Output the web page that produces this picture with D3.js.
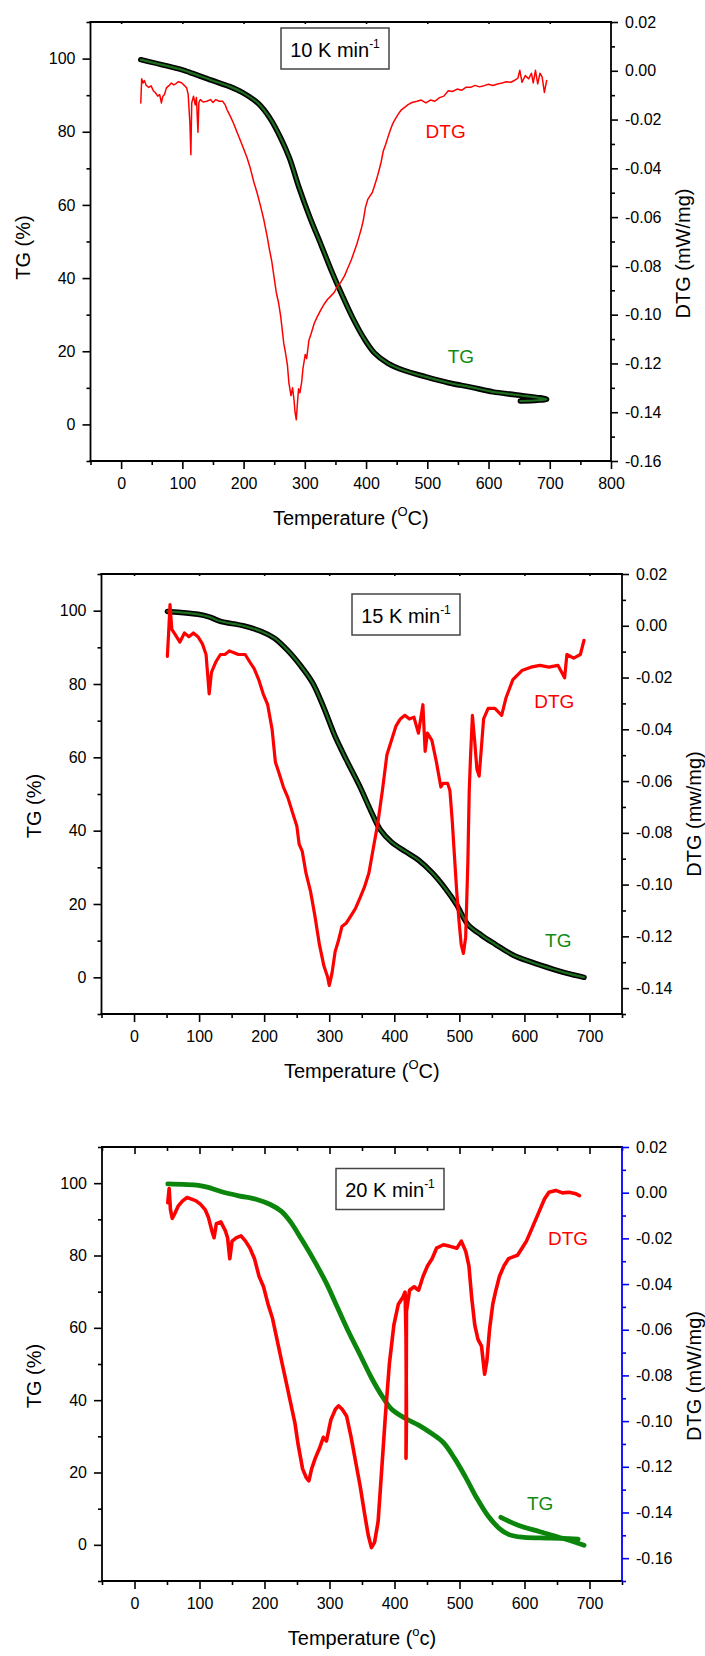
<!DOCTYPE html>
<html>
<head>
<meta charset="utf-8">
<script src="https://cdn.jsdelivr.net/npm/d3@7"></script>
<style>
  body { margin: 0; background: #fff; }
</style>
</head>
<body>
<script>
(function () {
  'use strict';

  // ---- data ----
  // TG [temperature, %]   DTG [temperature, mW/mg]
  const tg10 = [
    [32.1, 99.7], [100, 96.9], [110.9, 96.3], [147.4, 94.1], [176.6, 92.4], [198.5, 90.7],
    [224.1, 87.7], [242.3, 83.9], [260.6, 78.3], [275.2, 72.7], [289.8, 65.1], [308, 56.7],
    [326.3, 49.2], [344.5, 41.6], [359.1, 36.0], [377.4, 29.4], [395.6, 23.8], [413.9, 19.5],
    [435.8, 16.7], [461.3, 14.8], [497.8, 13.0], [534.3, 11.4], [570.8, 10.2], [607.3, 8.9],
    [643.8, 8.1], [694.9, 6.9], [680, 6.6], [652, 6.4]
  ];
  const dtg10 = [
    [32.1, -0.0132], [33.6, -0.0033], [36, -0.0050], [38, -0.0040], [41, -0.0060], [45.3, -0.0068],
    [49, -0.0062], [52.6, -0.0082], [56, -0.0090], [59.9, -0.0104], [63, -0.0098], [65.7, -0.0132],
    [68, -0.0105], [70.8, -0.0097], [74, -0.0070], [78.1, -0.0061], [82, -0.0050], [86, -0.0058],
    [89, -0.0054], [93, -0.0045], [96.4, -0.0047], [100, -0.0052], [103.6, -0.0061], [107, -0.0070],
    [109.5, -0.0097], [112.4, -0.0217], [113.9, -0.0344], [115.3, -0.0132], [118.2, -0.0104],
    [121, -0.0140], [123, -0.0110], [125.5, -0.0252], [127, -0.0130], [129.2, -0.0118], [134, -0.0128],
    [140.1, -0.0125], [146, -0.0118], [150, -0.0130], [154.7, -0.0118], [160, -0.0125], [165.7, -0.0125],
    [170, -0.0140], [173, -0.0160], [178, -0.0185], [183.9, -0.0217], [189, -0.0250], [194.9, -0.0287],
    [200, -0.0320], [205.8, -0.0358], [211, -0.0400], [216.8, -0.0457], [222, -0.0500], [227.7, -0.0555],
    [233, -0.0610], [238.7, -0.0682], [242, -0.0730], [246, -0.0781], [250, -0.0850], [253.3, -0.0908],
    [257, -0.0950], [260.6, -0.1007], [263, -0.1060], [265.7, -0.1120], [268, -0.1150], [271.5, -0.1205],
    [274, -0.1280], [277.4, -0.1332], [280, -0.1300], [282.5, -0.1353], [284, -0.1400], [286.1, -0.1431],
    [288, -0.1360], [289.8, -0.1304], [292, -0.1320], [294.9, -0.1276], [297, -0.1220], [300.7, -0.1163],
    [303, -0.1180], [306.6, -0.1106], [310, -0.1080], [315.3, -0.1036], [320, -0.1010], [326.3, -0.0979],
    [332, -0.0955], [337.2, -0.0937], [342, -0.0925], [348.2, -0.0908], [353, -0.0885], [359.1, -0.0866],
    [365, -0.0840], [370.1, -0.0810], [376, -0.0775], [381, -0.0739], [385, -0.0710], [388.3, -0.0682],
    [392, -0.0650], [395.6, -0.0612], [399, -0.0560], [402.9, -0.0527], [406, -0.0515], [410.2, -0.0499],
    [414, -0.0470], [417.5, -0.0442], [421, -0.0410], [424.8, -0.0372], [428, -0.0330], [432.1, -0.0301],
    [436, -0.0270], [439.4, -0.0245], [443, -0.0220], [446.7, -0.0202], [452, -0.0180], [457.7, -0.0160],
    [463, -0.0150], [468.6, -0.0139], [475, -0.0130], [483.2, -0.0125], [490, -0.0120], [497.8, -0.0132],
    [505, -0.0120], [512.4, -0.0125], [520, -0.0110], [527, -0.0104], [534.3, -0.0082], [541, -0.0085],
    [548.9, -0.0075], [556, -0.0080], [563, -0.0068], [570.8, -0.0068], [578, -0.0060], [585, -0.0066],
    [592.7, -0.0061], [600, -0.0055], [607, -0.0060], [614.6, -0.0054], [622, -0.0050], [629, -0.0045],
    [636.5, -0.0047], [642, -0.0040], [648, -0.0030], [651.1, 0.0002], [654.7, -0.0047], [660, -0.0020],
    [665.7, -0.0033], [670, -0.0010], [673, -0.0050], [676.6, 0.0002], [680.3, -0.0054], [684, -0.0010],
    [687.6, -0.0026], [691.2, -0.0089], [694.9, -0.0040]
  ];

  const tg15 = [
    [51.2, 99.8], [98.2, 99.0], [115.5, 98.3], [132.8, 97.1], [167.4, 95.9], [195, 94.4],
    [215.8, 92.5], [236.5, 89.1], [257.3, 84.7], [274.5, 80.3], [291.8, 73.5], [309.1, 65.7],
    [326.4, 59.3], [347.2, 52.0], [364.5, 45.2], [378.3, 40.3], [395.6, 36.9], [416.3, 34.4],
    [437.1, 32.0], [457.8, 28.6], [478.6, 24.2], [495.9, 19.8], [513.1, 14.4], [533.9, 11.5],
    [554.6, 9.1], [582.3, 6.1], [610, 4.2], [644.5, 2.2], [672.2, 0.8], [691.6, 0.0]
  ];
  const dtg15 = [
    [51.2, -0.0118], [53.3, -0.0021], [55.3, 0.0082], [58.1, -0.0014], [63.6, -0.0035], [70.5, -0.0063],
    [77.5, -0.0028], [84.4, -0.0042], [91.3, -0.0028], [98.2, -0.0042], [105.1, -0.0070], [110.7, -0.0111],
    [115.5, -0.0263], [119, -0.0180], [125.9, -0.0139], [132.8, -0.0111], [139.7, -0.0111], [146.6, -0.0097],
    [153.5, -0.0104], [160.4, -0.0111], [170.8, -0.0111], [177.7, -0.0139], [184.6, -0.0166], [191.6, -0.0208],
    [198.5, -0.0263], [205.4, -0.0305], [212.3, -0.0402], [217.2, -0.0526], [222.7, -0.0568], [229.6, -0.0623],
    [236.5, -0.0664], [243.4, -0.0720], [250.3, -0.0775], [253.8, -0.0844], [258.6, -0.0872], [264.2, -0.0955],
    [271.1, -0.1024], [278, -0.1121], [284.9, -0.1231], [291.8, -0.1314], [297.4, -0.1356], [300.1, -0.1390],
    [304.3, -0.1342], [309.1, -0.1259], [314, -0.1218], [319.5, -0.1162], [326.4, -0.1148], [333.3, -0.1121],
    [340.2, -0.1093], [347.2, -0.1052], [354.1, -0.1010], [361, -0.0955], [367.9, -0.0858], [374.8, -0.0761],
    [381.7, -0.0637], [388.7, -0.0498], [395.6, -0.0443], [402.5, -0.0388], [409.4, -0.0360], [416.3, -0.0346],
    [423.2, -0.0360], [430.2, -0.0353], [437.1, -0.0415], [444, -0.0305], [447.4, -0.0485], [450.9, -0.0415],
    [457.8, -0.0443], [464.7, -0.0526], [471.6, -0.0623], [475.1, -0.0609], [482, -0.0609], [485.5, -0.0637],
    [488.9, -0.0747], [492.4, -0.0886], [495.9, -0.1024], [499.3, -0.1135], [502.8, -0.1231], [506.2, -0.1266],
    [509.7, -0.1204], [513.1, -0.0913], [515.2, -0.0637], [517.3, -0.0498], [520.1, -0.0346], [523.5, -0.0443],
    [527, -0.0554], [530.4, -0.0581], [533.9, -0.0471], [537.3, -0.0360], [544.3, -0.0319], [554.6, -0.0319],
    [565, -0.0346], [571.9, -0.0277], [582.3, -0.0208], [596.1, -0.0173], [610, -0.0160], [623.8, -0.0153],
    [637.6, -0.0160], [651.5, -0.0153], [661.8, -0.0201], [665.3, -0.0111], [675.7, -0.0125], [686, -0.0111],
    [691.6, -0.0056]
  ];

  const tg20 = [
    [51.2, 99.8], [98.2, 99.4], [112, 98.9], [132.8, 97.7], [160.4, 96.5], [188.1, 95.5],
    [208.9, 94.1], [226.1, 92.2], [240, 89.3], [257.3, 84.4], [278, 78.1], [295.3, 72.3],
    [312.6, 65.5], [329.9, 58.7], [347.2, 52.5], [364.5, 46.2], [381.7, 40.9], [395.6, 37.5],
    [416.3, 35.0], [437.1, 33.1], [457.8, 30.7], [475.1, 28.3], [492.4, 23.9], [509.7, 18.6],
    [527, 12.8], [544.3, 7.9], [561.5, 4.5], [575.4, 2.9], [596.1, 2.1], [623.8, 1.9],
    [658.4, 1.8], [682.6, 1.6]
  ];
  const tg20b = [
    [563.6, 7.6], [589.2, 5.5], [623.8, 3.6], [658.4, 1.8], [691.6, -0.1]
  ];
  const dtg20 = [
    [51.2, -0.0044], [53.3, 0.0018], [55.3, -0.0074], [58.1, -0.0113], [62.2, -0.0090], [67.1, -0.0059],
    [74, -0.0036], [80.9, -0.0021], [87.8, -0.0028], [94.7, -0.0036], [101.7, -0.0051], [108.6, -0.0074],
    [113.4, -0.0105], [119, -0.0166], [122.4, -0.0197], [125.9, -0.0136], [132.8, -0.0128], [139.7, -0.0166],
    [143.2, -0.0197], [146.6, -0.0289], [150.1, -0.0212], [157, -0.0197], [163.9, -0.0189], [170.8, -0.0212],
    [177.7, -0.0243], [184.6, -0.0289], [191.6, -0.0366], [198.5, -0.0412], [205.4, -0.0488], [212.3, -0.0550],
    [219.2, -0.0642], [226.1, -0.0734], [233.1, -0.0826], [240, -0.0918], [246.9, -0.1010], [251.7, -0.1102],
    [258.6, -0.1209], [264.2, -0.1247], [268.3, -0.1262], [272.5, -0.1209], [278, -0.1163], [284.9, -0.1117],
    [290.5, -0.1071], [295.3, -0.1087], [302.2, -0.0994], [309.1, -0.0948], [314, -0.0933], [319.5, -0.0948],
    [326.4, -0.0979], [333.3, -0.1071], [340.2, -0.1178], [347.2, -0.1285], [354.1, -0.1408], [359.6, -0.1500],
    [364.5, -0.1554], [369.3, -0.1531], [374.8, -0.1439], [380.4, -0.1209], [385.9, -0.0979], [392.1, -0.0749],
    [399, -0.0580], [405.9, -0.0488], [412.9, -0.0458], [416.3, -0.0435], [417.7, -0.0626], [418.4, -0.0979],
    [417.7, -0.1163], [418.4, -0.0519], [423.2, -0.0427], [430.2, -0.0412], [437.1, -0.0427], [444, -0.0366],
    [450.9, -0.0320], [457.8, -0.0289], [464.7, -0.0243], [475.1, -0.0228], [485.5, -0.0235], [495.9, -0.0243],
    [502.8, -0.0212], [509.7, -0.0258], [514.5, -0.0320], [518.7, -0.0458], [523.5, -0.0580], [528.4, -0.0642],
    [533.9, -0.0672], [538.7, -0.0795], [542.2, -0.0734], [546.3, -0.0596], [551.2, -0.0488], [556, -0.0427],
    [561.5, -0.0366], [568.5, -0.0320], [575.4, -0.0289], [582.3, -0.0281], [589.2, -0.0274], [596.1, -0.0243],
    [603, -0.0212], [610, -0.0166], [616.9, -0.0120], [623.8, -0.0074], [630.7, -0.0028], [637.6, 0.0002],
    [648, 0.0010], [658.4, -0.0001], [668.7, 0.0002], [679.1, -0.0005], [684.6, -0.0013]
  ];

  // ---- tick values ----
  const xTicks800 = [0, 100, 200, 300, 400, 500, 600, 700, 800];
  const xMinor800 = [-50, 50, 150, 250, 350, 450, 550, 650, 750];
  const xTicks700 = [0, 100, 200, 300, 400, 500, 600, 700];
  const xMinor700 = [-50, 50, 150, 250, 350, 450, 550, 650, 750];
  const tgTicks = [0, 20, 40, 60, 80, 100];
  const tgMinor = [-10, 10, 30, 50, 70, 90, 110];
  const dtgTicks16 = [0.02, 0, -0.02, -0.04, -0.06, -0.08, -0.10, -0.12, -0.14, -0.16];
  const dtgMinor16 = [0.01, -0.01, -0.03, -0.05, -0.07, -0.09, -0.11, -0.13, -0.15];
  const dtgTicks14 = [0.02, 0, -0.02, -0.04, -0.06, -0.08, -0.10, -0.12, -0.14];
  const dtgMinor14 = [0.01, -0.01, -0.03, -0.05, -0.07, -0.09, -0.11, -0.13, -0.15];
  const dtgMinor17 = [0.01, -0.01, -0.03, -0.05, -0.07, -0.09, -0.11, -0.13, -0.15, -0.17];

  const FONT = 'Arial, "Liberation Sans", Helvetica, sans-serif';
  const RED = '#ff0000';
  const GREEN = '#0b850b';

  const svg = d3.select('body')
    .append('svg')
    .attr('width', 705)
    .attr('height', 1656)
    .style('background', '#fff')
    .attr('font-family', FONT);

  function styleAxis(sel, color) {
    sel.select('.domain').remove();
    sel.selectAll('line').attr('stroke', color || '#000').attr('stroke-width', 1.6);
    sel.selectAll('text').attr('font-size', 16).attr('fill', '#000').attr('font-family', FONT);
  }

  function drawPanel(p) {
    const g = svg.append('g');

    const x = d3.scaleLinear().domain(p.xDomain).range([p.left, p.right]);
    const y = d3.scaleLinear().domain([-10, 110]).range([p.bottom, p.top]);
    const y2 = d3.scaleLinear().domain(p.dtgDomain).range([p.bottom, p.top]);

    // bottom axis
    g.append('g').attr('transform', `translate(0,${p.bottom})`)
      .call(d3.axisBottom(x).tickValues(p.xMinor).tickSize(4).tickFormat(''))
      .call(styleAxis);
    g.append('g').attr('transform', `translate(0,${p.bottom})`)
      .call(d3.axisBottom(x).tickValues(p.xTicks).tickSize(8).tickPadding(9).tickFormat(d3.format('d')))
      .call(styleAxis);

    // top ticks (inward)
    g.append('g').attr('transform', `translate(0,${p.top})`)
      .call(d3.axisBottom(x).tickValues(p.xTicks).tickSize(p.topMajor).tickFormat(''))
      .call(styleAxis);
    g.append('g').attr('transform', `translate(0,${p.top})`)
      .call(d3.axisBottom(x).tickValues(p.xMinor).tickSize(p.topMinor).tickFormat(''))
      .call(styleAxis);

    // left axis (TG)
    g.append('g').attr('transform', `translate(${p.left},0)`)
      .call(d3.axisLeft(y).tickValues(tgMinor).tickSize(4).tickFormat(''))
      .call(styleAxis);
    g.append('g').attr('transform', `translate(${p.left},0)`)
      .call(d3.axisLeft(y).tickValues(tgTicks).tickSize(8).tickPadding(7).tickFormat(d3.format('d')))
      .call(styleAxis);

    // right axis (DTG)
    g.append('g').attr('transform', `translate(${p.right},0)`)
      .call(d3.axisRight(y2).tickValues(p.dtgMinor).tickSize(4).tickFormat(''))
      .call(styleAxis, p.rightColor);
    g.append('g').attr('transform', `translate(${p.right},0)`)
      .call(d3.axisRight(y2).tickValues(p.dtgTicks).tickSize(7).tickPadding(7).tickFormat(d => d.toFixed(2)))
      .call(styleAxis, p.rightColor);

    // frame
    const frame = [
      [p.left, p.top, p.right, p.top, '#000'],
      [p.left, p.bottom, p.right, p.bottom, '#000'],
      [p.left, p.top, p.left, p.bottom, '#000'],
      [p.right, p.top, p.right, p.bottom, p.rightColor]
    ];
    g.selectAll('line.frame').data(frame).enter().append('line')
      .attr('class', 'frame')
      .attr('x1', d => d[0]).attr('y1', d => d[1])
      .attr('x2', d => d[2]).attr('y2', d => d[3])
      .attr('stroke', d => d[4])
      .attr('stroke-width', 1.8)
      .attr('stroke-linecap', 'square');

    // curves
    const tgLine = d3.line()
      .curve(d3.curveCatmullRom.alpha(0.5))
      .x(d => x(d[0])).y(d => y(d[1]));
    const dtgLine = d3.line().x(d => x(d[0])).y(d => y2(d[1]));

    p.tg.forEach(series => {
      if (p.tgOutline) {
        g.append('path').attr('d', tgLine(series))
          .attr('fill', 'none').attr('stroke', '#000')
          .attr('stroke-width', 5.5).attr('stroke-linejoin', 'round').attr('stroke-linecap', 'round');
        g.append('path').attr('d', tgLine(series))
          .attr('fill', 'none').attr('stroke', '#1d6e1d')
          .attr('stroke-width', 2.2).attr('stroke-linejoin', 'round').attr('stroke-linecap', 'round');
      } else {
        g.append('path').attr('d', tgLine(series))
          .attr('fill', 'none').attr('stroke', GREEN)
          .attr('stroke-width', 4.8).attr('stroke-linejoin', 'round').attr('stroke-linecap', 'round');
      }
    });

    g.append('path').attr('d', dtgLine(p.dtg))
      .attr('fill', 'none').attr('stroke', RED)
      .attr('stroke-width', p.dtgWidth).attr('stroke-linejoin', 'round').attr('stroke-linecap', 'round');

    // series labels
    g.append('text').attr('x', x(p.dtgLabel[0])).attr('y', y(p.dtgLabel[1]))
      .attr('dy', '0.35em').attr('text-anchor', 'middle')
      .attr('font-size', 19).attr('fill', RED).text('DTG');
    g.append('text').attr('x', x(p.tgLabel[0])).attr('y', y(p.tgLabel[1]))
      .attr('dy', '0.35em').attr('text-anchor', 'middle')
      .attr('font-size', 19).attr('fill', '#108a10').text('TG');

    // rate box
    g.append('rect')
      .attr('x', p.box[0] - 54).attr('y', p.box[1] - 20.5)
      .attr('width', 108).attr('height', 41)
      .attr('fill', '#fff').attr('stroke', '#444').attr('stroke-width', 1.5);
    const bt = g.append('text')
      .attr('x', p.box[0]).attr('y', p.box[1] + 8)
      .attr('text-anchor', 'middle').attr('font-size', 20).attr('fill', '#000');
    bt.append('tspan').text(p.rate + ' K min');
    bt.append('tspan').attr('font-size', 12).attr('dy', -9).text('-1');

    // axis titles
    const xt = g.append('text')
      .attr('x', (p.left + p.right) / 2).attr('y', p.bottom + 64)
      .attr('text-anchor', 'middle').attr('font-size', 20).attr('fill', '#000');
    xt.append('tspan').text('Temperature (');
    xt.append('tspan').attr('font-size', 13).attr('dy', -9).text(p.degSym);
    xt.append('tspan').attr('dy', 9).text(p.unitC + ')');

    g.append('text')
      .attr('transform', `translate(${p.left - p.yTitleOff},${(p.top + p.bottom) / 2 + p.yTitleShift}) rotate(-90)`)
      .attr('dy', '0.35em').attr('text-anchor', 'middle')
      .attr('font-size', 20).attr('fill', '#000').text('TG (%)');

    g.append('text')
      .attr('transform', `translate(${p.right + 72},${(p.top + p.bottom) / 2 + p.y2TitleShift}) rotate(-90)`)
      .attr('dy', '0.35em').attr('text-anchor', 'middle')
      .attr('font-size', 20).attr('fill', '#000').text(p.y2Title);
  }

  drawPanel({
    left: 90.5, right: 611, top: 22, bottom: 461,
    xDomain: [-50, 800], xTicks: xTicks800, xMinor: xMinor800,
    topMajor: 2, topMinor: 0,
    dtgDomain: [-0.16, 0.02], dtgTicks: dtgTicks16, dtgMinor: dtgMinor16,
    rightColor: '#000',
    tg: [tg10], tgOutline: true, dtg: dtg10, dtgWidth: 1.5,
    dtgLabel: [530, 80.2], tgLabel: [555, 18.6],
    box: [335, 48.5], rate: '10',
    degSym: 'O', unitC: 'C',
    yTitleOff: 68, yTitleShift: 6, y2Title: 'DTG (mW/mg)', y2TitleShift: 12
  });

  drawPanel({
    left: 101.5, right: 622, top: 574, bottom: 1014,
    xDomain: [-50, 750], xTicks: xTicks700, xMinor: xMinor700,
    topMajor: 2, topMinor: 0,
    dtgDomain: [-0.15, 0.02], dtgTicks: dtgTicks14, dtgMinor: dtgMinor14,
    rightColor: '#000',
    tg: [tg15], tgOutline: true, dtg: dtg15, dtgWidth: 3.2,
    dtgLabel: [646, 75.2], tgLabel: [652, 10.1],
    box: [406, 614.5], rate: '15',
    degSym: 'O', unitC: 'C',
    yTitleOff: 68, yTitleShift: 12, y2Title: 'DTG (mw/mg)', y2TitleShift: 20
  });

  drawPanel({
    left: 102, right: 622, top: 1147, bottom: 1581,
    xDomain: [-50, 750], xTicks: xTicks700, xMinor: xMinor700,
    topMajor: 7, topMinor: 4,
    dtgDomain: [-0.17, 0.02], dtgTicks: dtgTicks16, dtgMinor: dtgMinor17,
    rightColor: '#0000ff',
    tg: [tg20, tg20b], tgOutline: false, dtg: dtg20, dtgWidth: 3.6,
    dtgLabel: [667, 84.7], tgLabel: [624, 11.5],
    box: [390, 1189], rate: '20',
    degSym: 'o', unitC: 'c',
    yTitleOff: 68, yTitleShift: 12, y2Title: 'DTG (mW/mg)', y2TitleShift: 12
  });

})();
</script>
</body>
</html>
